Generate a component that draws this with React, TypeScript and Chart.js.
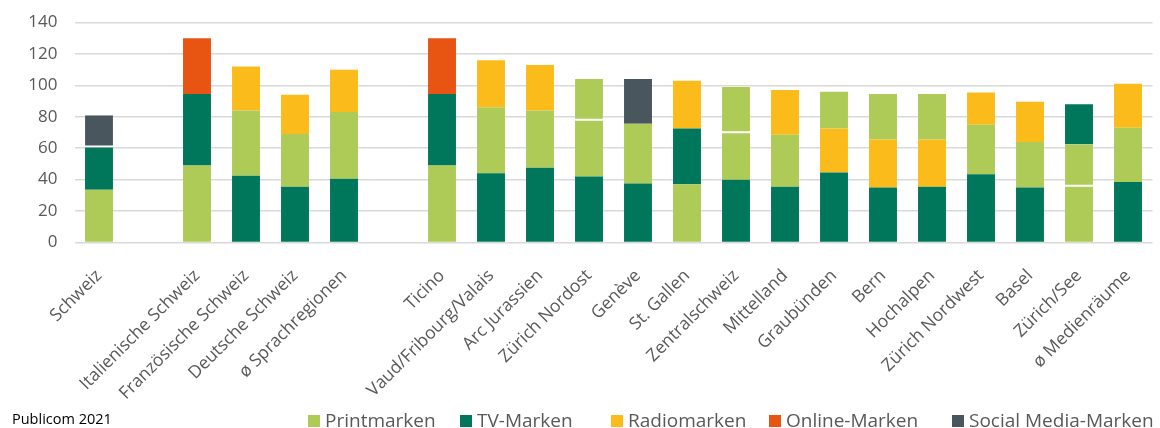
import React, { useEffect, useRef } from 'react';
import { Chart, registerables } from 'chart.js';

Chart.register(...registerables);

// Categories (empty strings are the gaps between the groups)
const categories = [
  'Schweiz', '', 'Italienische Schweiz', 'Französische Schweiz', 'Deutsche Schweiz', 'ø Sprachregionen', '',
  'Ticino', 'Vaud/Fribourg/Valais', 'Arc Jurassien', 'Zürich Nordost', 'Genève', 'St. Gallen', 'Zentralschweiz',
  'Mittelland', 'Graubünden', 'Bern', 'Hochalpen', 'Zürich Nordwest', 'Basel', 'Zürich/See', 'ø Medienräume',
];

// Brand types: 0 Print, 1 TV, 2 Radio, 3 Online, 4 Social Media
const typeNames = ['Printmarken', 'TV-Marken', 'Radiomarken', 'Online-Marken', 'Social Media-Marken'];
const typeColors = ['#AECB58', '#00775A', '#FBBC1B', '#E85412', '#4A565E'];

// Brand 1 (bottom segment)
const brand1Types = [0, null, 0, 1, 1, 1, null, 0, 1, 1, 1, 1, 0, 1, 1, 1, 1, 1, 1, 1, 0, 1];
const brand1Values = [33.5, null, 49, 42.5, 35.5, 40.5, null, 49, 44, 47.5, 42, 37.5, 37, 40, 35.5, 44.5, 35, 35.5, 43.5, 35, 35.5, 38.5];
// Brand 2 (middle segment)
const brand2Types = [1, null, 1, 0, 0, 0, null, 1, 0, 0, 0, 0, 1, 0, 0, 2, 2, 2, 0, 0, 0, 0];
const brand2Values = [27, null, 45.5, 41.5, 33.5, 42.5, null, 45.5, 42, 36.5, 35.5, 38, 35.5, 29.5, 33, 28, 30.5, 30, 31.5, 29, 27, 34.5];
// Brand 3 (top segment)
const brand3Types = [4, null, 3, 2, 2, 2, null, 3, 2, 2, 0, 4, 2, 0, 2, 0, 0, 0, 2, 2, 1, 2];
const brand3Values = [20.5, null, 35.5, 28, 25, 27, null, 35.5, 30, 29, 26.5, 28.5, 30.5, 29.5, 28.5, 23.5, 29, 29, 20.5, 25.5, 25.5, 28];

// Segments separated from the one below by a thin white line
const dividedBrand2 = ['Zürich/See'];
const dividedBrand3 = ['Schweiz', 'Zürich Nordost', 'Zentralschweiz'];

const yTicks = [0, 20, 40, 60, 80, 100, 120, 140];

// Legend layout (left edge of each legend marker)
const legendX = [308, 460, 611, 769, 952];

const FONT = '"Open Sans", "DejaVu Sans", sans-serif';
const TEXT_GREY = '#595959';

function makeDataset(label: string, values: (number | null)[], types: (number | null)[], divided: string[]) {
  return {
    label,
    data: values,
    backgroundColor: types.map((t) => (t === null ? 'transparent' : typeColors[t])),
    borderColor: '#ffffff',
    borderSkipped: false as const,
    borderWidth: (ctx: any) =>
      divided.includes(categories[ctx.dataIndex]) ? { top: 0, left: 0, right: 0, bottom: 2 } : 0,
    barPercentage: 0.57,
    categoryPercentage: 1,
  };
}

const legendPlugin = {
  id: 'customLegend',
  afterDraw(chart: any) {
    const ctx = chart.ctx as CanvasRenderingContext2D;
    ctx.save();
    ctx.textBaseline = 'alphabetic';
    ctx.textAlign = 'left';
    ctx.font = `14.5px ${FONT}`;
    ctx.fillStyle = '#000000';
    ctx.fillText('Publicom 2021', 12, 424);
    ctx.font = `19px ${FONT}`;
    typeNames.forEach((name, i) => {
      const x = legendX[i];
      ctx.fillStyle = typeColors[i];
      ctx.fillRect(x, 415, 12, 12);
      ctx.fillStyle = TEXT_GREY;
      ctx.fillText(name, x + 17, 427);
    });
    ctx.restore();
  },
};

export default function App() {
  const canvasRef = useRef<HTMLCanvasElement | null>(null);

  useEffect(() => {
    document.body.style.margin = '0';
    const canvas = canvasRef.current;
    if (!canvas) return;
    const chart = new Chart(canvas, {
      type: 'bar',
      data: {
        labels: categories,
        datasets: [
          makeDataset('Marke 1', brand1Values, brand1Types, []),
          makeDataset('Marke 2', brand2Values, brand2Types, dividedBrand2),
          makeDataset('Marke 3', brand3Values, brand3Types, dividedBrand3),
        ],
      },
      options: {
        animation: false,
        responsive: true,
        maintainAspectRatio: false,
        layout: { padding: { top: 22.5, left: 0, right: 7.5, bottom: 25.5 } },
        plugins: {
          legend: { display: false },
          tooltip: { enabled: false },
        },
        scales: {
          x: {
            stacked: true,
            grid: { display: false },
            border: { display: false },
            ticks: {
              autoSkip: false,
              maxRotation: 45,
              minRotation: 45,
              padding: 15,
              color: TEXT_GREY,
              font: { family: FONT, size: 17.5 },
            },
            afterFit: (scale: any) => {
              scale.height = 160;
              scale.paddingLeft = 0;
              scale.paddingRight = 0;
            },
          },
          y: {
            stacked: true,
            min: 0,
            max: 140,
            afterBuildTicks: (scale: any) => {
              scale.ticks = yTicks.map((v) => ({ value: v }));
            },
            grid: { color: '#d9d9d9', lineWidth: 1.5, drawTicks: false },
            border: { display: false },
            ticks: {
              padding: 17,
              color: TEXT_GREY,
              font: { family: FONT, size: 17 },
            },
            afterFit: (scale: any) => {
              scale.width = 74.5;
              scale.paddingTop = 10;
              scale.paddingBottom = 10;
            },
          },
        },
      },
      plugins: [legendPlugin],
    });
    return () => chart.destroy();
  }, []);

  return (
    <div style={{ width: 1160, height: 428, position: 'relative' }}>
      <canvas ref={canvasRef} />
    </div>
  );
}
